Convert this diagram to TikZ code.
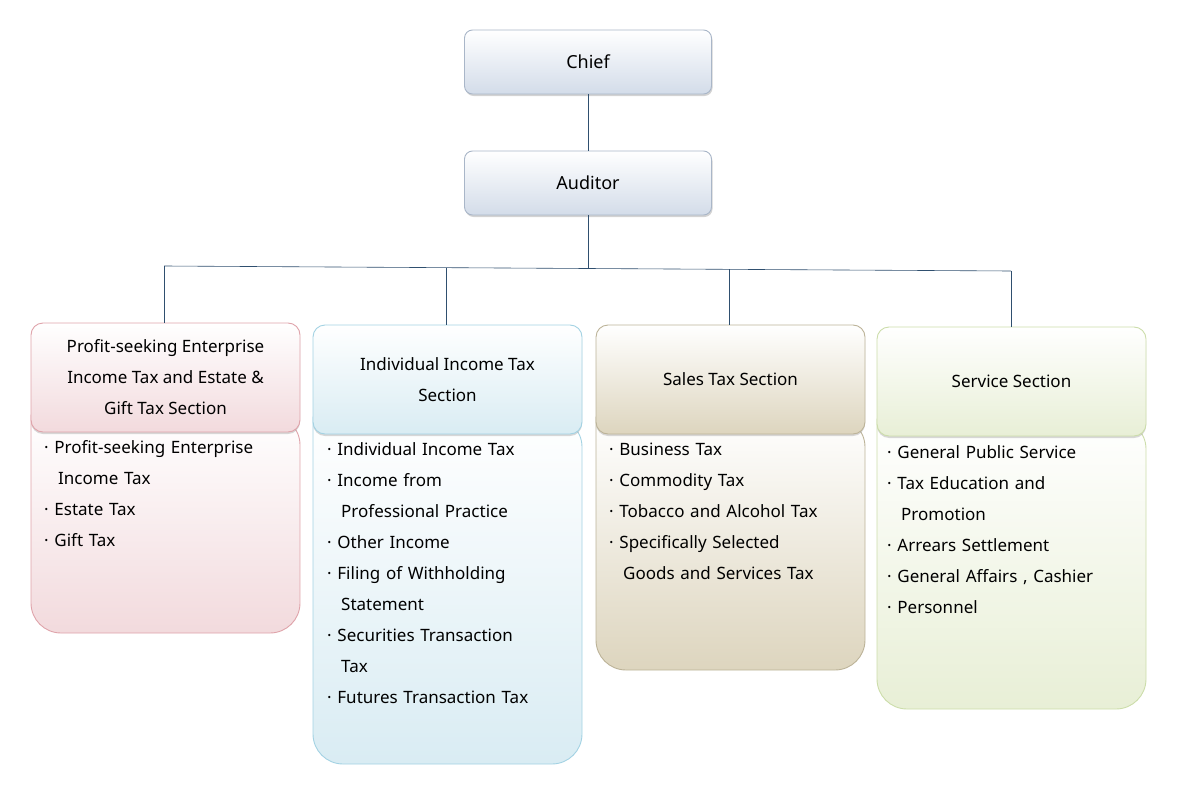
\documentclass[tikz,border=0pt]{standalone}
\usepackage{fontspec}
\setmainfont{Noto Sans}
\usetikzlibrary{shadows}
\definecolor{lnk}{HTML}{2F4F6F}
\definecolor{cA}{HTML}{F2DADD}
\definecolor{cB}{HTML}{D9ECF3}
\definecolor{cC}{HTML}{DDD5BE}
\definecolor{cD}{HTML}{E8EFD6}
\definecolor{cT}{HTML}{D3DCE9}
\definecolor{bA}{HTML}{DFA3AA}
\definecolor{bB}{HTML}{A3D2E3}
\definecolor{bC}{HTML}{BCB398}
\definecolor{bD}{HTML}{CCDDAA}
\definecolor{bT}{HTML}{A9B6C8}
\tikzset{
  x=1pt,y=-1pt,
  topbox/.style={draw=bT, rounded corners=8pt, line width=0.9pt, top color=white, bottom color=cT, minimum width=247pt, minimum height=64pt, font=\bfseries\fontsize{18}{20}\selectfont, drop shadow={opacity=0.35,shadow xshift=1pt,shadow yshift=-2pt}},
  head/.style 2 args={draw=#2, rounded corners=12pt, line width=0.9pt, top color=white, bottom color=#1, minimum width=269pt, minimum height=109pt, align=center, font=\fontsize{17}{31}\selectfont, drop shadow={opacity=0.3,shadow xshift=0pt,shadow yshift=-2pt}},
  items/.style={anchor=north west, align=left, font=\fontsize{17}{31}\selectfont, text width=260pt, inner sep=0pt},
  conn/.style={draw=lnk, line width=0.6pt}
}
\begin{document}
\begin{tikzpicture}
\useasboundingbox (0,0) rectangle (1186,792);
\node[topbox] (chief) at (588,62) {Chief};
\node[topbox] (aud) at (588,183) {Auditor};
\draw[conn] (chief.south) -- (aud.north);
\newcommand\bodyshape[6]{\draw[draw=#6, line width=0.9pt, top color=white, bottom color=#5, rounded corners=30pt] (#1,#2) -- (#1,#4) -- (#3,#4) -- (#3,#2) [sharp corners] -- cycle;}
\bodyshape{31}{415}{300}{633}{cA}{bA}
\bodyshape{313}{417}{582}{764}{cB}{bB}
\bodyshape{596}{417}{865}{670}{cC}{bC}
\bodyshape{877}{419}{1146}{709}{cD}{bD}
\node[head={cA}{bA}] (h1) at (165.5,377.5) {Profit-seeking Enterprise\\Income Tax and Estate \&\\Gift Tax Section};
\node[head={cB}{bB}] (h2) at (447.5,379.5) {Individual Income Tax\\Section};
\node[head={cC}{bC}] (h3) at (730.5,379.5) {Sales Tax Section};
\node[head={cD}{bD}] (h4) at (1011.5,381.5) {Service Section};
\coordinate (j) at (588,268);
\draw[conn] (aud.south) -- (j);
\draw[conn] (164,266) -- (1011,271);
\draw[conn] (164,266) -- (h1.north -| 164,0);
\draw[conn] (446,267.5) -- (h2.north -| 446,0);
\draw[conn] (729,269.3) -- (h3.north -| 729,0);
\draw[conn] (1011,271) -- (h4.north -| 1011,0);
\node[items] (l1) at (44,440) {· Profit-seeking Enterprise\\\hspace*{14pt}Income Tax\\· Estate Tax\\· Gift Tax};
\node[items] (l2) at (327,442) {· Individual Income Tax\\· Income from\\\hspace*{14pt}Professional Practice\\· Other Income\\· Filing of Withholding\\\hspace*{14pt}Statement\\· Securities Transaction\\\hspace*{14pt}Tax\\· Futures Transaction Tax};
\node[items] (l3) at (609,443) {· Business Tax\\· Commodity Tax\\· Tobacco and Alcohol Tax\\· Specifically Selected\\\hspace*{14pt}Goods and Services Tax};
\node[items] (l4) at (887,445) {· General Public Service\\· Tax Education and\\\hspace*{14pt}Promotion\\· Arrears Settlement\\· General Affairs , Cashier\\· Personnel};
\end{tikzpicture}
\end{document}
